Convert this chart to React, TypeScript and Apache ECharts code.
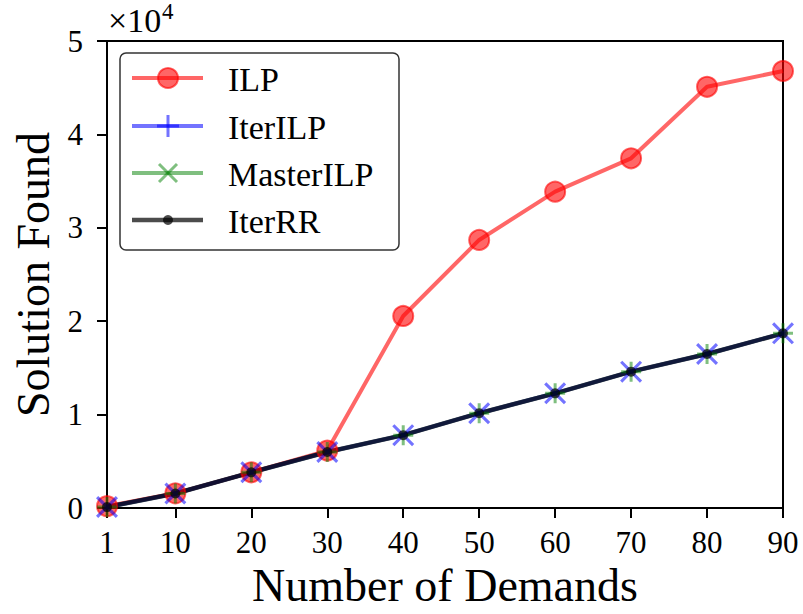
import React, { useEffect, useRef } from "react";
import * as echarts from "echarts";

const demands = [1, 10, 20, 30, 40, 50, 60, 70, 80, 90];
const ilp = [200, 1570, 3820, 6150, 20560, 28700, 33870, 37440, 45100, 46790];
const iterILP = [100, 1550, 3820, 6000, 7800, 10150, 12280, 14600, 16490, 18700];
const masterILP = [100, 1550, 3820, 6000, 7800, 10150, 12280, 14600, 16490, 18700];
const iterRR = [100, 1550, 3820, 6000, 7800, 10150, 12280, 14600, 16490, 18700];
const xTicks = [1, 10, 20, 30, 40, 50, 60, 70, 80, 90];
const seriesNames = ["ILP", "IterILP", "MasterILP", "IterRR"];

const FONT = "Liberation Serif";
const RED = "rgba(255,0,0,0.6)";
const BLUE = "rgba(0,0,255,0.55)";
const GREEN = "rgba(0,128,0,0.5)";
const BLACK = "rgba(0,0,0,0.7)";

const plusPath = "path://M8.5,0h3v8.5h8.5v3h-8.5v8.5h-3v-8.5h-8.5v-3h8.5z";
const xPath = "path://M0,2L2,0L10,8L18,0L20,2L12,10L20,18L18,20L10,12L2,20L0,18L8,10z";

const pairs = (ys: number[]) => demands.map((d, i) => [d, ys[i]]);

export default function App() {
  const ref = useRef<HTMLDivElement>(null);
  useEffect(() => {
    if (!ref.current) return;
    const chart = echarts.init(ref.current, null, { renderer: "svg" });
    const lx1 = 132, lx2 = 203, lcx = 168, tx = 228;
    const rows = [78, 126, 173, 220];
    const legendGraphics: any[] = [
      {
        type: "rect",
        shape: { x: 120, y: 53, width: 279, height: 197, r: 6 },
        style: { fill: "rgba(255,255,255,0.85)", stroke: "#333", lineWidth: 1.5 },
        z: 100,
      },
      { type: "line", shape: { x1: lx1, y1: rows[0], x2: lx2, y2: rows[0] }, style: { stroke: RED, lineWidth: 4 }, z: 101 },
      { type: "circle", shape: { cx: lcx, cy: rows[0], r: 10 }, style: { fill: RED, stroke: RED, lineWidth: 2 }, z: 102 },
      { type: "line", shape: { x1: lx1, y1: rows[1], x2: lx2, y2: rows[1] }, style: { stroke: BLUE, lineWidth: 4 }, z: 101 },
      { type: "line", shape: { x1: lcx, y1: rows[1] - 11, x2: lcx, y2: rows[1] + 11 }, style: { stroke: BLUE, lineWidth: 3 }, z: 102 },
      { type: "line", shape: { x1: lcx - 11, y1: rows[1], x2: lcx + 11, y2: rows[1] }, style: { stroke: BLUE, lineWidth: 3 }, z: 102 },
      { type: "line", shape: { x1: lx1, y1: rows[2], x2: lx2, y2: rows[2] }, style: { stroke: GREEN, lineWidth: 4 }, z: 101 },
      { type: "line", shape: { x1: lcx - 9, y1: rows[2] - 9, x2: lcx + 9, y2: rows[2] + 9 }, style: { stroke: GREEN, lineWidth: 3 }, z: 102 },
      { type: "line", shape: { x1: lcx - 9, y1: rows[2] + 9, x2: lcx + 9, y2: rows[2] - 9 }, style: { stroke: GREEN, lineWidth: 3 }, z: 102 },
      { type: "line", shape: { x1: lx1, y1: rows[3], x2: lx2, y2: rows[3] }, style: { stroke: BLACK, lineWidth: 4.5 }, z: 101 },
      { type: "circle", shape: { cx: lcx, cy: rows[3], r: 5 }, style: { fill: BLACK }, z: 102 },
    ];
    seriesNames.forEach((n, i) => {
      legendGraphics.push({
        type: "text",
        x: tx,
        y: rows[i] + 1,
        style: { text: n, fontFamily: FONT, fontSize: 34, fill: "#000", verticalAlign: "middle", align: "left" },
        z: 103,
      });
    });
    chart.setOption({
      animation: false,
      backgroundColor: "#fff",
      grid: { left: 107, right: 20, top: 41, bottom: 106, show: true, borderColor: "#000", borderWidth: 2, containLabel: false },
      xAxis: {
        type: "value",
        min: 1,
        max: 90,
        name: "Number of Demands",
        nameLocation: "middle",
        nameGap: 52,
        nameTextStyle: { fontFamily: FONT, fontSize: 46, color: "#000" },
        axisLine: { show: true, lineStyle: { color: "#000", width: 2 } },
        axisTick: { show: true, inside: false, length: 10, lineStyle: { color: "#000", width: 2 }, customValues: xTicks },
        axisLabel: { fontFamily: FONT, fontSize: 31, color: "#000", margin: 19, customValues: xTicks, showMinLabel: true, showMaxLabel: true },
        splitLine: { show: false },
      },
      yAxis: {
        type: "value",
        min: 0,
        max: 50000,
        interval: 10000,
        name: "Solution Found",
        nameLocation: "middle",
        nameGap: 48,
        nameTextStyle: { fontFamily: FONT, fontSize: 46, color: "#000" },
        axisLine: { show: true, lineStyle: { color: "#000", width: 2 } },
        axisTick: { show: true, inside: false, length: 10, lineStyle: { color: "#000", width: 2 } },
        axisLabel: { fontFamily: FONT, fontSize: 31, color: "#000", margin: 24, formatter: (v: number) => String(v / 10000) },
        splitLine: { show: false },
      },
      graphic: [
        { type: "text", x: 108, y: 20, style: { text: "×10", fontFamily: FONT, fontSize: 34, fill: "#000", verticalAlign: "middle", align: "left" } },
        { type: "text", x: 162, y: 11, style: { text: "4", fontFamily: FONT, fontSize: 23, fill: "#000", verticalAlign: "middle", align: "left" } },
        ...legendGraphics,
      ],
      series: [
        {
          name: "ILP",
          type: "line",
          data: pairs(ilp),
          symbol: "circle",
          symbolSize: 20,
          lineStyle: { color: RED, width: 4 },
          itemStyle: { color: RED, borderColor: RED, borderWidth: 2 },
        },
        {
          name: "MasterILP",
          type: "line",
          data: pairs(masterILP),
          symbol: plusPath,
          symbolSize: 20,
          lineStyle: { color: GREEN, width: 4 },
          itemStyle: { color: GREEN },
        },
        {
          name: "IterILP",
          type: "line",
          data: pairs(iterILP),
          symbol: xPath,
          symbolSize: 22,
          lineStyle: { color: BLUE, width: 4 },
          itemStyle: { color: BLUE },
        },
        {
          name: "IterRR",
          type: "line",
          data: pairs(iterRR),
          symbol: "circle",
          symbolSize: 10,
          lineStyle: { color: BLACK, width: 4.5 },
          itemStyle: { color: BLACK },
        },
      ],
    });
    return () => chart.dispose();
  }, []);
  return <div ref={ref} style={{ width: 803, height: 614, position: "absolute", left: 0, top: 0 }} />;
}
